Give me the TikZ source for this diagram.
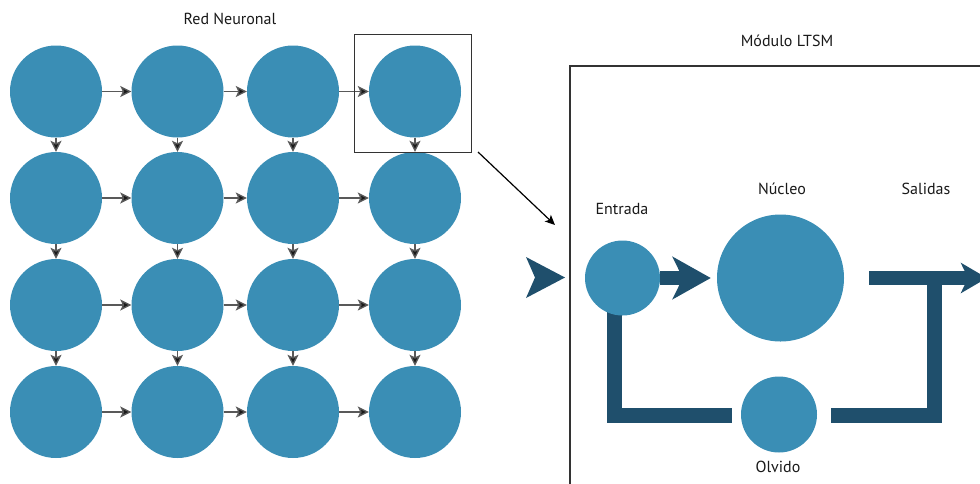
\documentclass[tikz,border=0pt]{standalone}
\usepackage{fontspec}
\setmainfont{PT Sans}
\usetikzlibrary{arrows.meta}
\definecolor{cblue}{HTML}{3A8EB5}
\definecolor{cdark}{HTML}{1F4F6C}
\definecolor{cline}{HTML}{333333}
\tikzset{
  cell/.style={circle, fill=cblue, inner sep=0pt, minimum size=92pt},
  gate/.style={circle, fill=cblue, inner sep=0pt},
  gridarrow/.style={draw=black!65, line width=1.3pt, -{Stealth[length=11pt,width=11pt,inset=2.5pt,fill=black!90]}},
  lbl/.style={font=\fontsize{16pt}{18pt}\selectfont, text=black!90, inner sep=0pt},
  bigline/.style={draw=cdark, line width=15pt, line cap=butt, line join=miter},
}
\begin{document}
\begin{tikzpicture}[x=1pt,y=-1pt]
\useasboundingbox (0,0) rectangle (980,483);
% grid
\foreach \r/\yy in {1/91.5,2/198,3/305,4/412}{
  \foreach \c/\xx in {1/56,2/177.5,3/293,4/415}{
    \node[cell] (c\r\c) at (\xx,\yy) {};
  }
}
\foreach \r in {1,2,3,4}{
  \draw[gridarrow] (c\r1) -- (c\r2);
  \draw[gridarrow] (c\r2) -- (c\r3);
  \draw[gridarrow] (c\r3) -- (c\r4);
}
\foreach \c in {1,2,3,4}{
  \draw[gridarrow] (c1\c) -- (c2\c);
  \draw[gridarrow] (c2\c) -- (c3\c);
  \draw[gridarrow] (c3\c) -- (c4\c);
}
\node[draw=cline, line width=1pt, minimum width=117pt, minimum height=118pt, inner sep=0pt] (sel) at (412.5,93) {};
\node[lbl] (t1) at (230,19) {Red Neuronal};
% zoom arrow
\coordinate (z1) at (478,152);
\coordinate (z2) at (555,225);
\draw[black, line width=1.2pt, -{Stealth[length=10pt,width=9pt,inset=2.5pt]}] (z1) -- (z2);
% LSTM module frame
\coordinate (fb) at (570,490);
\coordinate (ftl) at (570,66);
\coordinate (fr) at (990,66);
\draw[cline, line width=1.3pt] (fb) -- (ftl) -- (fr);
\node[lbl] (t2) at (787,41) {Módulo LTSM};
% input chevron
\fill[cdark] (526,257) -- (565,277.5) -- (526,298) -- (535,277.5) -- cycle;
% feedback loop
\coordinate (l1) at (614.5,290);
\coordinate (l2) at (614.5,415.5);
\coordinate (l3) at (732,415.5);
\coordinate (r1) at (831,415.5);
\coordinate (r2) at (934.5,415.5);
\coordinate (r3) at (934.5,272);
\draw[bigline] (l1) -- (l2) -- (l3);
\draw[bigline] (r1) -- (r2) -- (r3);
% gates
\node[gate, minimum size=75pt] (entrada) at (622.5,278) {};
\node[gate, minimum size=127pt] (nucleo) at (780.5,278) {};
\node[gate, minimum size=76pt] (olvido) at (779,414.5) {};
% thick arrows
\draw[draw=cdark, line width=14pt, shorten >=6pt, -{Stealth[length=38pt,width=42pt,inset=10pt,fill=cdark]}] (entrada.east) -- (nucleo.west);
\coordinate (out) at (987,278);
\draw[draw=cdark, line width=14pt, shorten <=25pt, -{Stealth[length=26pt,width=30pt,inset=7pt,fill=cdark]}] (nucleo.east) -- (out);
% labels
\node[lbl] (te) at (622,209) {Entrada};
\node[lbl] (tn) at (782,189) {Núcleo};
\node[lbl] (ts) at (926,189) {Salidas};
\node[lbl] (to) at (778,467) {Olvido};
\end{tikzpicture}
\end{document}
